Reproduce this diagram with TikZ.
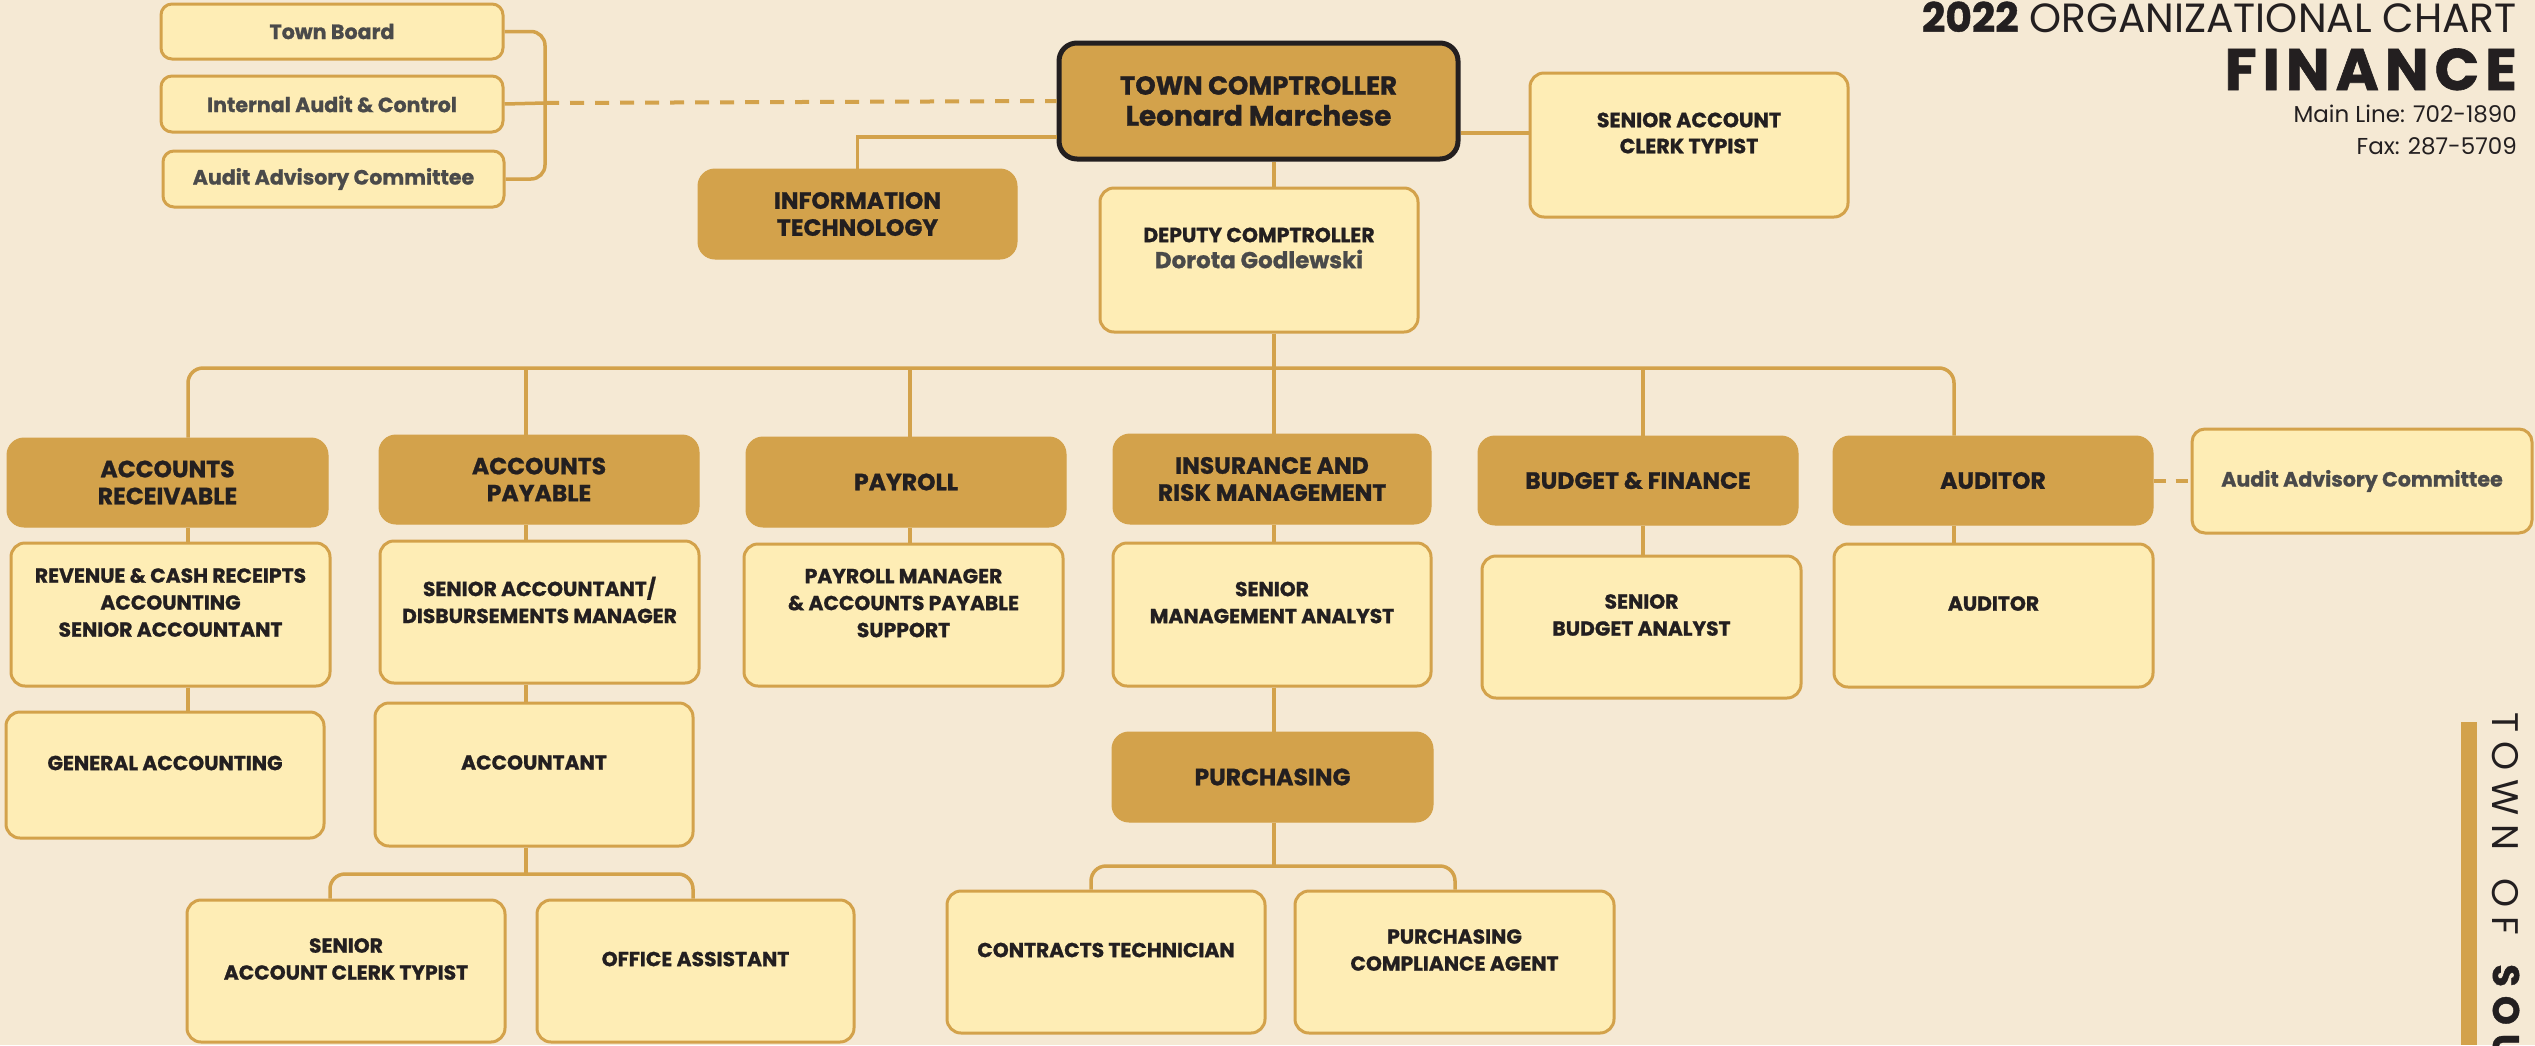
\documentclass[tikz,border=0pt]{standalone}
\usepackage{fontspec}
\setmainfont{Poppins}[BoldFeatures={FakeBold=1}]
\definecolor{bg}{HTML}{F5E9D4}
\definecolor{pale}{HTML}{FEEDB5}
\definecolor{gold}{HTML}{D3A24B}
\definecolor{ink}{HTML}{231F20}
\definecolor{grayt}{HTML}{4A4A4A}
\begin{document}
\begin{tikzpicture}[x=1pt,y=-1pt,
  lbox/.style={draw=gold, fill=pale, line width=3pt, rounded corners=14pt, inner sep=0pt},
  sbox/.style={draw=gold, fill=pale, line width=3pt, rounded corners=11pt, inner sep=0pt,
     font=\bfseries\fontsize{20.6}{24}\selectfont, text=grayt, align=center},
  dbox/.style={draw=gold, fill=gold, line width=1pt, rounded corners=17pt, inner sep=0pt,
     font=\bfseries\fontsize{23.5}{27}\selectfont, text=ink, align=center},
  stxt/.style={font=\bfseries\fontsize{20.3}{27}\selectfont, text=ink, align=center, inner sep=0pt},
  conn/.style={draw=gold, line width=3.5pt, rounded corners=15pt},
  dconn/.style={draw=gold, line width=4pt, dash pattern=on 14pt off 11pt},
]
\fill[bg] (0,0) rectangle (2535,1045);
\useasboundingbox (0,0) rectangle (2535,1045);

% ---------- connectors coordinates
\coordinate (lbr) at (545,103);
\coordinate (busL) at (188,368);
\coordinate (busR) at (1954,368);
\coordinate (xap) at (526,368);
\coordinate (xpay) at (910,368);
\coordinate (xsp) at (1274,368);
\coordinate (xbud) at (1643,368);
\coordinate (abr) at (526,874);
\coordinate (abl) at (330,874);
\coordinate (abrr) at (693,874);
\coordinate (pbr) at (1274,866);
\coordinate (pbl) at (1091,866);
\coordinate (pbrr) at (1455,866);

% ---------- top left boxes
\node[sbox, minimum width=342pt, minimum height=55pt] (tb) at (332,31.5) {Town Board};
\node[sbox, minimum width=342pt, minimum height=56pt] (iac) at (332,104) {Internal Audit \& Control};
\node[sbox, minimum width=341pt, minimum height=56pt] (aac1) at (333.5,179) {Audit Advisory Committee};

% ---------- comptroller and top row
\node[draw=ink, fill=gold, line width=5pt, rounded corners=18pt, inner sep=0pt,
      minimum width=399pt, minimum height=116pt, align=center, text=ink, font=\bfseries\fontsize{26}{31}\selectfont]
      (comp) at (1258.5,101)
      {TOWN COMPTROLLER\\{\fontsize{28}{31}\selectfont Leonard Marchese}};
\node[dbox, minimum width=319pt, minimum height=90pt] (it) at (857.5,214) {INFORMATION\\TECHNOLOGY};
\node[lbox, minimum width=318pt, minimum height=144pt] (sact) at (1689,145) {};
\node[stxt, font=\bfseries\fontsize{20.6}{26}\selectfont] (sact-t) at ([yshift=12pt]sact.center) {SENIOR ACCOUNT\\CLERK TYPIST};
\node[lbox, minimum width=318pt, minimum height=144pt] (dep) at (1259,260) {};
\node[stxt, font=\bfseries\fontsize{20.4}{26}\selectfont] (dep-t) at ([yshift=12pt]dep.center)
      {DEPUTY COMPTROLLER\\{\color{grayt}\fontsize{23}{26}\selectfont Dorota Godlewski}};

% ---------- headers
\node[dbox, minimum width=321pt, minimum height=89pt] (ar) at (167.5,482.5) {ACCOUNTS\\RECEIVABLE};
\node[dbox, minimum width=320pt, minimum height=89pt] (ap) at (539,479.5) {ACCOUNTS\\PAYABLE};
\node[dbox, minimum width=320pt, minimum height=90pt] (pay) at (906,482) {PAYROLL};
\node[dbox, minimum width=318pt, minimum height=90pt] (ins) at (1272,479) {INSURANCE AND\\RISK MANAGEMENT};
\node[dbox, minimum width=320pt, minimum height=89pt] (bud) at (1638,480.5) {BUDGET \& FINANCE};
\node[dbox, minimum width=320pt, minimum height=89pt] (aud) at (1993,480.5) {AUDITOR};
\node[sbox, rounded corners=13pt, minimum width=340pt, minimum height=104pt] (aac2) at (2362,481) {Audit Advisory Committee};

% ---------- second row
\node[lbox, minimum width=319pt, minimum height=143pt] (rev) at (170.5,614.5) {};
\node[stxt] (rev-t) at ([yshift=12pt]rev.center) {REVENUE \& CASH RECEIPTS\\ACCOUNTING\\SENIOR ACCOUNTANT};
\node[lbox, minimum width=319pt, minimum height=142pt] (sacc) at (539.5,612) {};
\node[stxt] (sacc-t) at ([yshift=12pt]sacc.center) {SENIOR ACCOUNTANT/\\DISBURSEMENTS MANAGER};
\node[lbox, minimum width=319pt, minimum height=142pt] (pm) at (903.5,615) {};
\node[stxt] (pm-t) at ([yshift=12pt]pm.center) {PAYROLL MANAGER\\\& ACCOUNTS PAYABLE\\SUPPORT};
\node[lbox, minimum width=318pt, minimum height=143pt] (sma) at (1272,614.5) {};
\node[stxt] (sma-t) at ([yshift=12pt]sma.center) {SENIOR\\MANAGEMENT ANALYST};
\node[lbox, minimum width=319pt, minimum height=142pt] (sba) at (1641.5,627) {};
\node[stxt] (sba-t) at ([yshift=12pt]sba.center) {SENIOR\\BUDGET ANALYST};
\node[lbox, minimum width=319pt, minimum height=143pt] (auds) at (1993.5,615.5) {};
\node[stxt] (auds-t) at ([yshift=12pt]auds.center) {AUDITOR};

% ---------- third row
\node[lbox, minimum width=318pt, minimum height=126pt] (ga) at (165,775) {};
\node[stxt] (ga-t) at ([yshift=12pt]ga.center) {GENERAL ACCOUNTING};
\node[lbox, minimum width=318pt, minimum height=143pt] (acct) at (534,774.5) {};
\node[stxt] (acct-t) at ([yshift=12pt]acct.center) {ACCOUNTANT};
\node[dbox, minimum width=321pt, minimum height=90pt] (pur) at (1272.5,777) {PURCHASING};

% ---------- bottom row
\node[lbox, minimum width=318pt, minimum height=142pt] (sact2) at (346,971) {};
\node[stxt] (sact2-t) at ([yshift=12pt]sact2.center) {SENIOR\\ACCOUNT CLERK TYPIST};
\node[lbox, minimum width=317pt, minimum height=142pt] (oa) at (695.5,971) {};
\node[stxt] (oa-t) at ([yshift=12pt]oa.center) {OFFICE ASSISTANT};
\node[lbox, minimum width=318pt, minimum height=142pt] (ct) at (1106,962) {};
\node[stxt] (ct-t) at ([yshift=12pt]ct.center) {CONTRACTS TECHNICIAN};
\node[lbox, minimum width=319pt, minimum height=142pt] (pca) at (1454.5,962) {};
\node[stxt] (pca-t) at ([yshift=12pt]pca.center) {PURCHASING\\COMPLIANCE AGENT};

% ---------- connectors
\draw[conn, rounded corners=14pt] (tb.east) -| (lbr) |- (aac1.east);
\draw[conn] (iac.east) -- (lbr);
\draw[dconn] (lbr) -- (comp.west);
\draw[conn, sharp corners] ([yshift=-36pt]comp.west) -| (it.north);
\draw[conn] ([yshift=-32pt]comp.east) -- ([yshift=-32pt]comp.east -| sact.west);
\draw[conn] (comp.south -| xsp) -- (dep.north -| xsp);
\draw[conn] (dep.south -| xsp) -- (ins.north -| xsp);
\draw[conn] (ar.north -| busL) |- (busR) -- (aud.north -| busR);
\draw[conn] (xap) -- (ap.north -| xap);
\draw[conn] (xpay) -- (pay.north -| xpay);
\draw[conn] (xbud) -- (bud.north -| xbud);
\draw[conn] (ar.south -| busL) -- (rev.north -| busL);
\draw[conn] (rev.south -| busL) -- (ga.north -| busL);
\draw[conn] (ap.south -| xap) -- (sacc.north -| xap);
\draw[conn] (sacc.south -| xap) -- (acct.north -| xap);
\draw[conn] (acct.south -| xap) -- (abr);
\draw[conn] (sact2.north -| abl) |- (abrr) -- (oa.north -| abrr);
\draw[conn] (pay.south -| xpay) -- (pm.north -| xpay);
\draw[conn] (ins.south -| xsp) -- (sma.north -| xsp);
\draw[conn] (sma.south -| xsp) -- (pur.north -| xsp);
\draw[conn] (pur.south -| pbr) -- (pbr);
\draw[conn] (ct.north -| pbl) |- (pbrr) -- (pca.north -| pbrr);
\draw[conn] (bud.south -| xbud) -- (sba.north -| xbud);
\draw[conn] (aud.south -| busR) -- (auds.north -| busR);
\draw[dconn, dash pattern=on 12pt off 10pt] (aud.east) -- (aud.east -| aac2.west);

% ---------- title block
\node[anchor=base east, inner sep=0pt, text=ink, font=\fontsize{40.8}{42}\selectfont] (title) at (2517,32) {\textbf{2022} ORGANIZATIONAL CHART};
\node[anchor=base east, inner sep=0pt, text=ink, font=\bfseries\fontsize{58.6}{60}\selectfont\addfontfeature{LetterSpace=10}] (fin) at (2517,90) {FINANCE};
\node[anchor=base east, inner sep=0pt, text=ink, font=\fontsize{23}{26}\selectfont] (mainline) at (2517,122) {Main Line: 702-1890};
\node[anchor=base east, inner sep=0pt, text=ink, font=\fontsize{23}{26}\selectfont] (fax) at (2517,154) {Fax: 287-5709};

% ---------- side band
\fill[gold] (2461,722) rectangle (2477,1045);
\node[rotate=-90, anchor=west, inner sep=0pt, text=ink, font=\fontsize{37}{40}\selectfont] (town) at (2506,712)
  {{\addfontfeature{LetterSpace=24}TOWN\hspace{10pt} OF\hspace{10pt} }{\bfseries\addfontfeature{LetterSpace=24}SOU}};
\end{tikzpicture}
\end{document}
